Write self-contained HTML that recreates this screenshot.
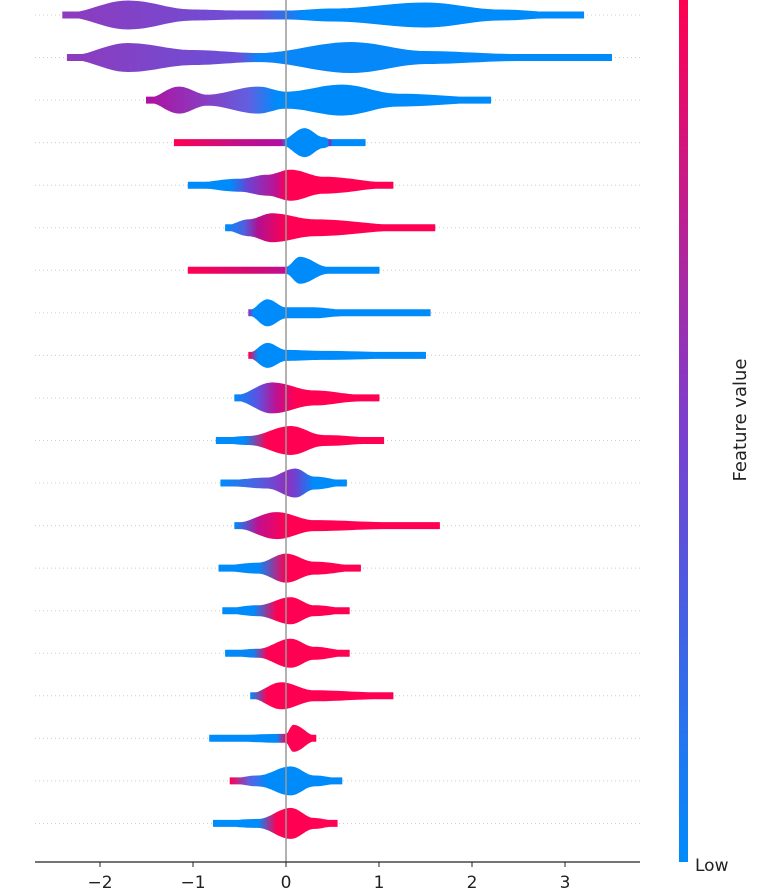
<!DOCTYPE html>
<html><head><meta charset="utf-8"><style>
body{margin:0;background:#fff;}
svg{display:block;font-family:"DejaVu Sans","Liberation Sans",sans-serif;}
</style></head><body>
<svg id="chart" width="768" height="891" viewBox="0 0 768 891" xmlns="http://www.w3.org/2000/svg">
<defs id="defs"><linearGradient id="cbar" x1="0" y1="1" x2="0" y2="0"><stop offset="0" stop-color="#008bfb"/><stop offset="0.5" stop-color="#7a3fd0"/><stop offset="1" stop-color="#ff0052"/></linearGradient></defs>
<g id="grid"></g>
<g id="violins"></g>
<line x1="286" y1="0" x2="286" y2="862" stroke="#999" stroke-width="1.5"/>
<g id="xaxis"></g>
<rect x="679" y="0" width="9" height="862" fill="url(#cbar)"/>
<text x="695" y="871" font-size="17" fill="#222">Low</text>
<text transform="translate(746,420) rotate(-90)" text-anchor="middle" font-size="18" fill="#222">Feature value</text>
</svg>
<script>
const ticks=[-2,-1,0,1,2,3];
const rowMins=[-2.4,-2.35,-1.5,-1.2,-1.05,-0.65,-1.05,-0.4,-0.4,-0.55,-0.75,-0.7,-0.55,-0.72,-0.68,-0.65,-0.38,-0.82,-0.6,-0.78];
const rowKnots=[
[[-2.4,1],[-1.7,14],[-1.0,5],[-0.5,4],[0,4],[0.5,6],[1.5,12],[2.3,5],[3.0,2],[3.2,2]],
[[-2.35,1],[-1.7,14],[-1.0,7],[-0.3,4],[0.7,15],[1.5,6],[2.5,3],[3.3,2],[3.5,2]],
[[-1.5,1],[-1.15,13],[-0.85,5],[-0.3,13],[0,8],[0.6,15],[1.2,6],[2.2,2]],
[[-1.2,2],[-0.8,3],[-0.6,2],[-0.05,2],[0.2,14],[0.4,5],[0.5,2],[0.85,2]],
[[-1.05,1.5],[-0.5,6],[-0.2,10],[0.05,15],[0.4,8],[1.15,2]],
[[-0.65,2],[-0.4,8],[-0.15,14],[0.3,8],[1.3,2],[1.6,2]],
[[-1.05,2],[-0.4,3],[0,3],[0.15,13],[0.45,3],[1.0,2]],
[[-0.4,2],[-0.2,13],[0,5],[0.3,5],[0.6,3],[1.55,2]],
[[-0.4,2],[-0.2,12],[0,5],[0.4,4],[1.5,2]],
[[-0.55,2],[-0.15,15],[0.3,7],[0.8,3],[1.0,2]],
[[-0.75,2],[-0.4,4],[0.05,14],[0.4,5],[1.05,2]],
[[-0.7,2],[-0.2,5],[0.1,14],[0.3,6],[0.65,2]],
[[-0.55,2],[-0.1,13],[0.3,5],[1.1,3],[1.65,2]],
[[-0.72,2],[-0.3,5],[0,14],[0.3,6],[0.8,2]],
[[-0.68,2],[-0.3,5],[0.05,13],[0.3,5],[0.68,2]],
[[-0.65,2],[-0.3,4],[0.05,14],[0.3,6],[0.68,2]],
[[-0.38,2],[-0.05,13],[0.3,5],[1.0,3],[1.15,2]],
[[-0.82,2],[0,4],[0.08,13],[0.32,2]],
[[-0.6,2],[-0.3,5],[0.05,14],[0.3,5],[0.6,2]],
[[-0.78,2],[-0.3,4],[0.05,15],[0.3,5],[0.55,2]]
];
const rowColors=[
[[-2.4,"#8e3bbd"],[-0.3,"#6a50d8"],[0.2,"#008bfb"]],
[[-2.35,"#8e3bbd"],[-0.5,"#6a50d8"],[-0.3,"#0a86f8"],[3.5,"#008bfb"]],
[[-1.5,"#b010a0"],[-0.9,"#8a3bc0"],[-0.4,"#6060e0"],[-0.1,"#008bfb"]],
[[-1.2,"#ff0052"],[-0.5,"#c0108a"],[-0.05,"#b010a0"],[0,"#008bfb"],[0.45,"#008bfb"],[0.47,"#9020b0"],[0.5,"#008bfb"]],
[[-1.0,"#008bfb"],[-0.6,"#008bfb"],[-0.4,"#7040d0"],[-0.1,"#c01090"],[0,"#ff0052"]],
[[-0.65,"#008bfb"],[-0.45,"#5060e0"],[-0.3,"#b01090"],[0,"#ff0052"]],
[[-1.05,"#ff0052"],[-0.3,"#d00a78"],[0,"#c01090"],[0.02,"#008bfb"]],
[[-0.4,"#9030c0"],[-0.35,"#008bfb"]],
[[-0.4,"#ff0052"],[-0.3,"#008bfb"]],
[[-0.55,"#008bfb"],[-0.3,"#6050e0"],[-0.1,"#c01090"],[0.1,"#ff0052"]],
[[-0.75,"#008bfb"],[-0.45,"#008bfb"],[-0.2,"#ff0052"]],
[[-0.7,"#008bfb"],[-0.3,"#5060e0"],[0,"#9030c0"],[0.1,"#7040d0"],[0.3,"#008bfb"]],
[[-0.55,"#008bfb"],[-0.3,"#c01090"],[0,"#ff0052"]],
[[-0.7,"#008bfb"],[-0.3,"#008bfb"],[0,"#ff0052"]],
[[-0.68,"#008bfb"],[-0.35,"#008bfb"],[-0.1,"#ff0052"]],
[[-0.65,"#008bfb"],[-0.35,"#1080f0"],[-0.2,"#ff0052"]],
[[-0.38,"#008bfb"],[-0.2,"#ff0052"]],
[[-0.8,"#008bfb"],[-0.1,"#008bfb"],[0,"#ff0052"]],
[[-0.6,"#ff0052"],[-0.4,"#6060e0"],[-0.2,"#008bfb"]],
[[-0.78,"#008bfb"],[-0.3,"#008bfb"],[-0.1,"#ff0052"]]
];
const NS="http://www.w3.org/2000/svg";
const x0=286, pxPerUnit=93, rowTop=15, rowStep=42.55;
const xs=v=>x0+v*pxPerUnit;
const ys=i=>rowTop+i*rowStep;
const defs=document.getElementById('defs');
const gGrid=document.getElementById('grid'), gV=document.getElementById('violins'), gX=document.getElementById('xaxis');
function mk(t,a,p){const e=document.createElementNS(NS,t);for(const k in a)e.setAttribute(k,a[k]);p.appendChild(e);return e;}
rowKnots.forEach((kn,i)=>{
  const y=ys(i);
  const gl=mk('line',{x1:35,x2:640,y1:y,y2:y,stroke:'#ccc','stroke-width':1,'stroke-dasharray':'1,3'},gGrid);
  
  
  const gid='g'+i;
  const a=xs(rowMins[i]),b=xs(kn[kn.length-1][0]);
  const lg=mk('linearGradient',{id:gid,gradientUnits:'userSpaceOnUse',x1:a,x2:b,y1:0,y2:0},defs);
  rowColors[i].forEach(c=>{mk('stop',{offset:Math.max(0,Math.min(1,(xs(c[0])-a)/(b-a))),'stop-color':c[1]},lg);});
  const top=[],bot=[];
  for(let k=0;k<kn.length-1;k++){
    const [v1,h1]=kn[k],[v2,h2]=kn[k+1];
    for(let s=0;s<12;s++){const t=s/12,e=(1-Math.cos(Math.PI*t))/2;const px=xs(v1+(v2-v1)*t),h=Math.max(3,h1+(h2-h1)*e);top.push([px,y-h]);bot.push([px,y+h]);}
  }
  const L=kn[kn.length-1],hl=Math.max(3,L[1]);top.push([xs(L[0]),y-hl]);bot.push([xs(L[0]),y+hl]);
  let d='M'+top.map(p=>p[0].toFixed(1)+','+p[1].toFixed(1)).join('L');
  d+='L'+bot.reverse().map(p=>p[0].toFixed(1)+','+p[1].toFixed(1)).join('L')+'Z';
  const p=mk('path',{d:d,fill:'url(#'+gid+')',stroke:'url(#'+gid+')','stroke-width':1,'stroke-linejoin':'round'},gV);
  
  
});
const ax=mk('line',{x1:35,x2:640,y1:862,y2:862,stroke:'#222','stroke-width':1.3},gX);


ticks.forEach(t=>{
  const tk=mk('line',{x1:xs(t),x2:xs(t),y1:862,y2:867,stroke:'#222'},gX);
  
  
  const tx=mk('text',{x:xs(t),y:888,'text-anchor':'middle','font-size':17,fill:'#222'},gX);
  tx.textContent=t<0?'\u2212'+(-t):String(t);
  
  
});
</script>
</body></html>
